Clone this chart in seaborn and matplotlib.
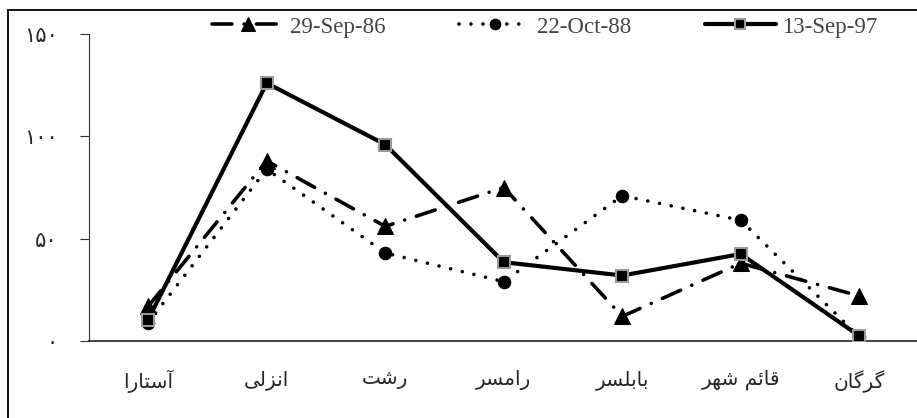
import matplotlib
matplotlib.use("Agg")
import matplotlib.pyplot as plt
import seaborn as sns
import pandas as pd
from matplotlib.patches import Rectangle

# ---- data ----
cities = ['آستارا', 'انزلی', 'رشت', 'رامسر', 'بابلسر', 'قائم شهر', 'گرگان']
sep86 = [17, 88, 56, 75, 12, 38, 22]
oct88 = [9, 84, 43, 29, 71, 59, 2]
sep97 = [10.5, 126, 96, 38.5, 32, 42.5, 2.5]
series_names = ['29-Sep-86', '22-Oct-88', '13-Sep-97']
yticks = [0, 50, 100, 150]
ytick_labels = ['۰', '۵۰', '۱۰۰', '۱۵۰']

# ---- simple Arabic-script shaping (contextual forms + visual order) ----
FORMS = {  # isolated, final, initial, medial
    'آ': ('\uFE81', '\uFE82', None, None),
    'ا': ('\uFE8D', '\uFE8E', None, None),
    'ئ': ('\uFE89', '\uFE8A', '\uFE8B', '\uFE8C'),
    'ب': ('\uFE8F', '\uFE90', '\uFE91', '\uFE92'),
    'ت': ('\uFE95', '\uFE96', '\uFE97', '\uFE98'),
    'ر': ('\uFEAD', '\uFEAE', None, None),
    'ز': ('\uFEAF', '\uFEB0', None, None),
    'س': ('\uFEB1', '\uFEB2', '\uFEB3', '\uFEB4'),
    'ش': ('\uFEB5', '\uFEB6', '\uFEB7', '\uFEB8'),
    'ق': ('\uFED5', '\uFED6', '\uFED7', '\uFED8'),
    'ل': ('\uFEDD', '\uFEDE', '\uFEDF', '\uFEE0'),
    'م': ('\uFEE1', '\uFEE2', '\uFEE3', '\uFEE4'),
    'ن': ('\uFEE5', '\uFEE6', '\uFEE7', '\uFEE8'),
    'ه': ('\uFEE9', '\uFEEA', '\uFEEB', '\uFEEC'),
    'ی': ('\uFBFC', '\uFBFD', '\uFBFE', '\uFBFF'),
    'گ': ('\uFB92', '\uFB93', '\uFB94', '\uFB95'),
}


def shape(word):
    out = []
    n = len(word)
    for i, ch in enumerate(word):
        f = FORMS.get(ch)
        if f is None:
            out.append(ch)
            continue
        prev = word[i - 1] if i > 0 else None
        nxt = word[i + 1] if i < n - 1 else None
        jp = prev in FORMS and FORMS[prev][2] is not None
        jn = f[2] is not None and nxt in FORMS
        if jp and jn:
            out.append(f[3])
        elif jp:
            out.append(f[1])
        elif jn:
            out.append(f[2])
        else:
            out.append(f[0])
    return ''.join(reversed(out))


shaped = [shape(c) for c in cities]

# ---- figure ----
sns.set_style("white")
plt.rcParams['font.family'] = ['Liberation Serif', 'DejaVu Sans']

fig = plt.figure(figsize=(9.17, 4.18), dpi=100)
ax = fig.add_axes([89 / 917, 1 - 341 / 418, (918.5 - 89) / 917, (341 - 34) / 418])

df86 = pd.DataFrame({'city': shaped, 'v': sep86})
df88 = pd.DataFrame({'city': shaped, 'v': oct88})
df97 = pd.DataFrame({'city': shaped, 'v': sep97})

sns.lineplot(data=df86, x='city', y='v', ax=ax, sort=False, errorbar=None,
             color='black', linewidth=2.6, linestyle=(0, (5.5, 3.4, 0.01, 3.4)),
             dash_capstyle='round', marker='^', markersize=12,
             markeredgecolor='black', markerfacecolor='black',
             label=series_names[0], zorder=3)
sns.lineplot(data=df88, x='city', y='v', ax=ax, sort=False, errorbar=None,
             color='black', linewidth=2.6, linestyle=(0, (0.01, 3.3)),
             dash_capstyle='round', marker='o', markersize=9,
             markeredgecolor='black', markerfacecolor='black',
             label=series_names[1], zorder=4)
sns.lineplot(data=df97, x='city', y='v', ax=ax, sort=False, errorbar=None,
             color='black', linewidth=3.0, linestyle='-',
             marker='s', markersize=8.5, markeredgecolor='#9a9a9a',
             markeredgewidth=1.5, markerfacecolor='black',
             label=series_names[2], zorder=5)

ax.set_xlim(-0.5, 6.5)
ax.set_ylim(0, 150)
ax.set_yticks(yticks)
ax.set_yticklabels(ytick_labels, family='DejaVu Sans', fontsize=15)
ax.set_xlabel('')
ax.set_ylabel('')
for lab in ax.get_xticklabels():
    lab.set_family('DejaVu Sans')
    lab.set_fontsize(14.5)

ax.tick_params(axis='y', direction='out', length=6.5, width=0.8,
               color='#333333', pad=16, left=True)
ax.tick_params(axis='x', length=0, pad=21)
for side in ['top', 'right']:
    ax.spines[side].set_visible(False)
ax.spines['left'].set_color('#333333')
ax.spines['left'].set_linewidth(0.8)
ax.spines['bottom'].set_color('#222222')
ax.spines['bottom'].set_linewidth(1.2)
ax.grid(False)

handles, labels = ax.get_legend_handles_labels()
leg = ax.legend(handles, labels, ncol=3, frameon=False, loc='center',
                bbox_to_anchor=(545 / 917, 1 - 27 / 418),
                bbox_transform=fig.transFigure,
                fontsize=16.5, handlelength=3.1, handletextpad=0.3,
                columnspacing=3.2, numpoints=1, borderpad=0.1,
                markerscale=0.85)
for t in leg.get_texts():
    t.set_color('#444444')

# outer frame (only left and top edges visible in the crop)
fig.patches.append(Rectangle((8 / 917, -0.2), 1.3, 0.2 + (1 - 10 / 418),
                             transform=fig.transFigure, fill=False,
                             edgecolor='black', linewidth=1.3, clip_on=False))

fig.savefig('out.png', dpi=100)
